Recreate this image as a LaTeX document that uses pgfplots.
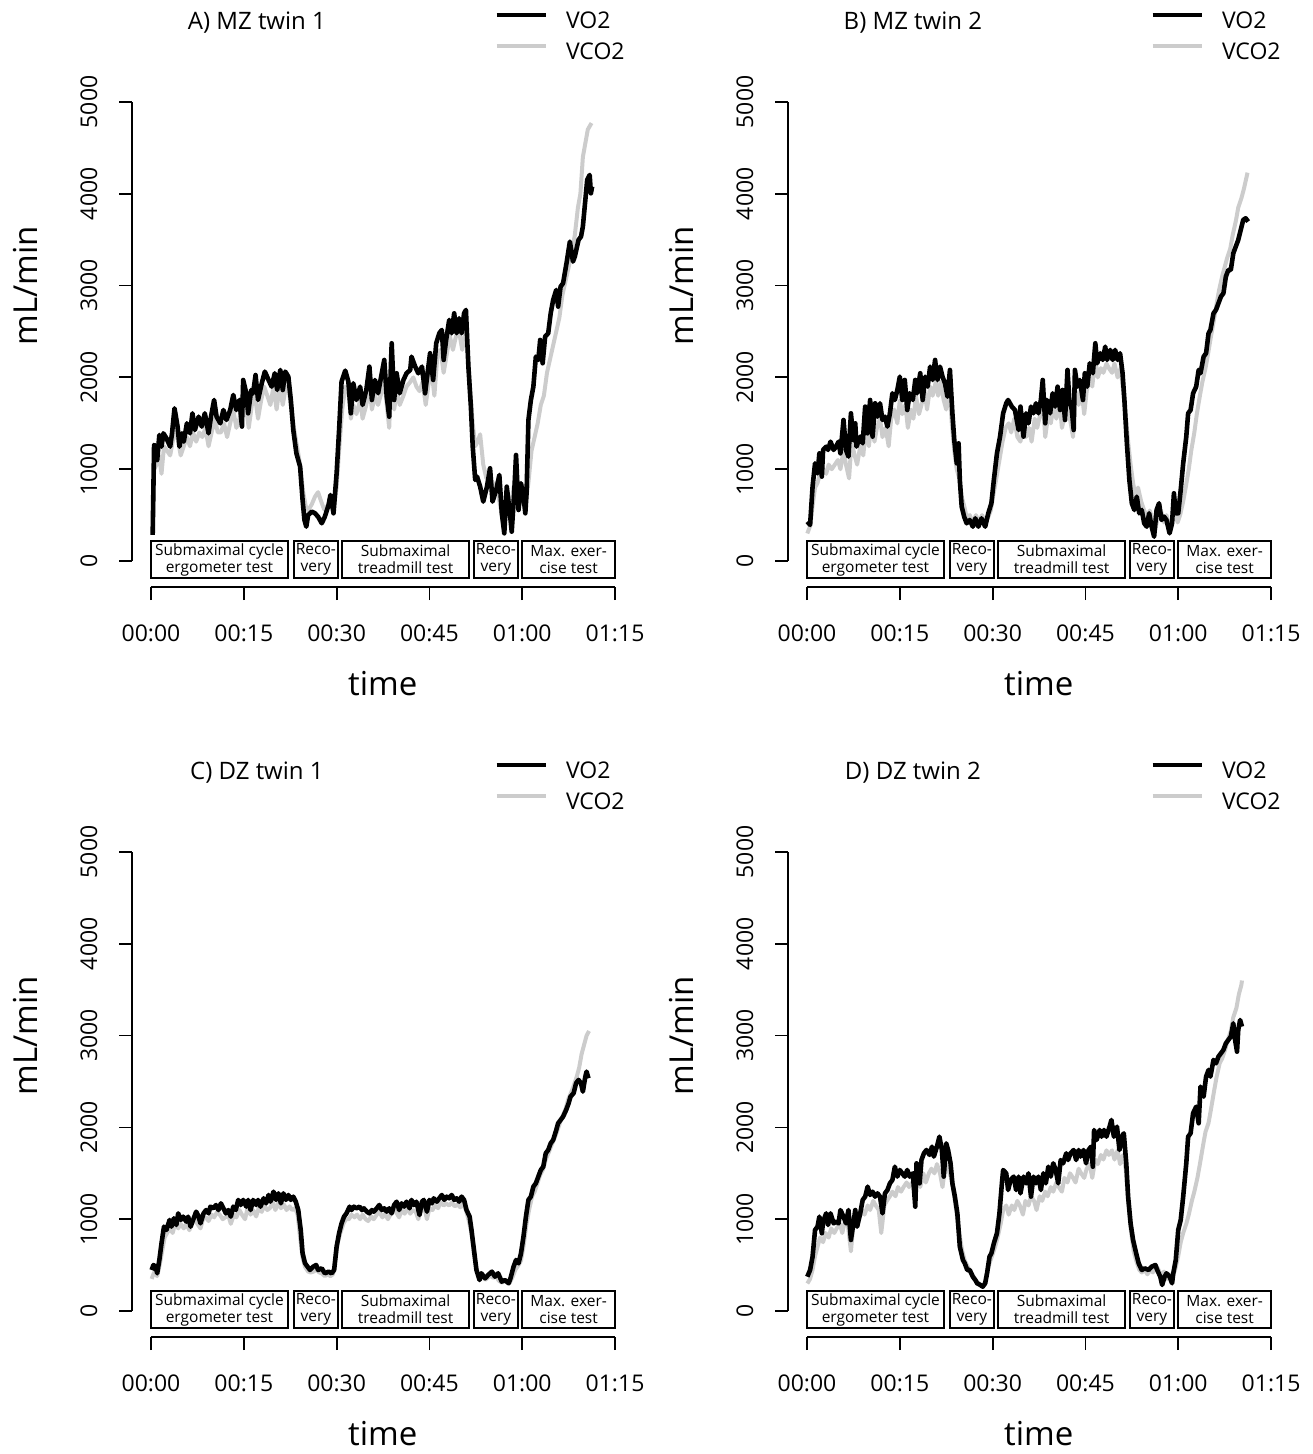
\documentclass[border=0pt]{standalone}
\usepackage{fontspec}
\setmainfont{Open Sans}
\usepackage{pgfplots}
\pgfplotsset{compat=1.18}

\definecolor{vcogray}{RGB}{204,204,204}

\pgfplotsset{
  panel/.style={
    scale only axis,
    width=250.8pt, height=251.7pt,
    xmin=-3.07, xmax=78, ymin=-283, ymax=5200,
    axis x line*=bottom, axis y line*=left,
    axis line style={draw=none},
    clip=false,
    xtick={0,15,30,45,60,75},
    xticklabels={00:00,00:15,00:30,00:45,01:00,01:15},
    ytick={0,1000,2000,3000,4000,5000},
    yticklabels={0,1000,2000,3000,4000,5000},
    tick align=outside,
    major tick length=6.5pt,
    tick style={black, line width=0.9pt},
    ticklabel style={font=\fontsize{11.5}{13}\selectfont},
    xticklabel style={anchor=center, yshift=-16.5pt},
    yticklabel style={xshift=-15pt, rotate=90, anchor=center},
    xlabel={time}, ylabel={mL/min},
    label style={font=\fontsize{16.5}{19}\selectfont},
    xlabel style={at={(axis description cs:0.5,-0.191)}, anchor=center},
    ylabel style={at={(axis description cs:-0.213,0.598)}, anchor=center},
    every axis title/.style={at={(axis description cs:0.249,1.122)}, anchor=center,
      font=\fontsize{12}{14}\selectfont},
    legend style={draw=none, fill=none, at={(axis description cs:0.7217,1.142)},
      anchor=north west, font=\fontsize{11.5}{13}\selectfont,
      inner sep=0pt, row sep=5.5pt, column sep=9pt,
      nodes={inner sep=0pt, text height=8pt, text depth=2pt}},
    legend cell align=left,
    reverse legend,
    legend image code/.code={\draw[##1] (0pt,4pt) -- (24.5pt,4pt);},
  },
  vco/.style={vcogray, line width=2pt, line join=round},
  vo/.style={black, line width=2.3pt, line join=round},
}

\newcommand{\phaseboxes}{%
  \draw[line width=0.9pt, fill=white] (0,-185) rectangle (22.14,218);
  \draw[line width=0.9pt, fill=white] (23.1,-185) rectangle (30.2,218);
  \draw[line width=0.9pt, fill=white] (30.9,-185) rectangle (51.4,218);
  \draw[line width=0.9pt, fill=white] (52.2,-185) rectangle (59.3,218);
  \draw[line width=0.9pt, fill=white] (60.0,-185) rectangle (75,218);
  \node[align=center, inner sep=0pt, font=\fontsize{7.75}{8.5}\selectfont] at (11.07,16) {Submaximal cycle\\ergometer test};
  \node[align=center, inner sep=0pt, font=\fontsize{7.75}{8.5}\selectfont] at (26.65,16) {Reco-\\very};
  \node[align=center, inner sep=0pt, font=\fontsize{7.75}{8.5}\selectfont] at (41.15,16) {Submaximal\\treadmill test};
  \node[align=center, inner sep=0pt, font=\fontsize{7.75}{8.5}\selectfont] at (55.75,16) {Reco-\\very};
  \node[align=center, inner sep=0pt, font=\fontsize{7.75}{8.5}\selectfont] at (67.5,16) {Max. exer-\\cise test};
  \draw[line width=0.9pt] (-3.07,0) -- (-3.07,5000);
  \draw[line width=0.9pt] (0,-283) -- (75,-283);
}

\begin{document}
\begin{tikzpicture}
\useasboundingbox (0,0) rectangle (656pt,-727pt);

% A) MZ twin 1
\begin{axis}[panel, at={(66pt,-293.5pt)}, anchor=south west, title={A) MZ twin 1}]
\addplot[vco] coordinates {
(0.3,300) (0.5,1000) (0.9,1050) (1.3,1150) (1.7,950) (2.1,1250) (2.6,1200) (3.1,1150) (3.5,1300) (3.9,1450) (4.4,1300) (4.8,1150) (5.3,1250) (5.8,1350) (6.3,1250) (6.8,1400) (7.3,1300) (7.8,1400) (8.3,1350) (8.8,1450) (9.3,1250) (9.8,1400) (10.3,1550) (10.8,1400) (11.3,1400) (11.8,1500) (12.3,1350) (12.8,1500) (13.3,1650) (13.8,1450) (14.3,1550) (14.8,1750) (15.3,1700) (15.8,1450) (16.3,1700) (16.8,1800) (17.3,1550) (17.8,1750) (18.3,1900) (18.8,1800) (19.3,1700) (19.8,1900) (20.3,1650) (20.8,1900) (21.3,1700) (21.8,1900) (22.3,1850) (22.7,1650) (23.1,1450) (23.6,1250) (24.1,1050) (24.6,750) (25.0,600) (25.4,550) (26.0,620) (26.5,700) (27.0,750) (27.5,650) (28.0,560) (28.5,600) (29.0,620) (29.5,560) (30.0,800) (30.4,1200) (30.9,1650) (31.4,1900) (31.9,1850) (32.3,1550) (32.7,1700) (33.2,1600) (33.8,1750) (34.2,1550) (34.8,1700) (35.3,1900) (35.7,1650) (36.2,1800) (36.7,1700) (37.3,1850) (37.7,2000) (38.1,1700) (38.5,1450) (38.9,2150) (39.3,1650) (39.7,1850) (40.2,1700) (40.8,1800) (41.3,1900) (41.9,1950) (42.4,2000) (42.9,1900) (43.4,1850) (43.9,1950) (44.4,1700) (44.8,1900) (45.3,2100) (45.8,1800) (46.3,2250) (46.8,2300) (47.3,2050) (47.8,2250) (48.3,2450) (48.8,2300) (49.3,2450) (49.8,2500) (50.3,2300) (50.8,2500) (51.2,2250) (51.6,1850) (52.0,1500) (52.4,1250) (52.8,1300) (53.2,1380) (53.7,1050) (54.2,900) (54.7,1000) (55.2,800) (55.7,850) (56.2,700) (56.7,500) (57.2,650) (57.7,700) (58.2,600) (58.6,800) (59.0,900) (59.5,600) (60.0,700) (60.5,600) (61.0,850) (61.5,1200) (62.0,1350) (62.5,1500) (63.0,1700) (63.5,1800) (64.0,2050) (64.5,2200) (65.0,2350) (65.5,2500) (66.0,2650) (66.5,2900) (67.0,3050) (67.5,3200) (68.0,3350) (68.5,3550) (69.0,3850) (69.4,4000) (69.8,4400) (70.2,4550) (70.6,4700) (71.2,4770)
};
\addlegendentry{VCO2}
\addplot[vo] coordinates {
(0.27,284) (0.5,1264) (0.8,1246) (1.0,1100) (1.35,1373) (1.7,1246) (2.0,1391) (2.5,1337) (3.1,1246) (3.4,1391) (3.8,1663) (4.3,1464) (4.6,1246) (5.0,1391) (5.3,1300) (5.8,1500) (6.3,1391) (6.7,1609) (7.1,1427) (7.7,1572) (8.2,1464) (8.7,1609) (9.3,1391) (9.7,1572) (10.2,1754) (10.6,1572) (11.2,1500) (11.7,1645) (12.2,1536) (12.8,1645) (13.3,1809) (13.8,1645) (14.3,1754) (14.7,1464) (14.9,1972) (15.4,1827) (15.7,1609) (16.2,1863) (16.5,1827) (16.9,2026) (17.3,1754) (17.9,1936) (18.4,2063) (19.0,1972) (19.5,1899) (20.0,2045) (20.4,1863) (20.9,2081) (21.3,1863) (21.7,2063) (22.2,2008) (22.6,1754) (23.0,1427) (23.5,1173) (24.1,1028) (24.5,665) (24.8,447) (25.1,374) (25.4,501) (26.0,538) (26.5,520) (27.0,483) (27.6,411) (28.1,483) (28.7,611) (29.0,719) (29.5,520) (30.0,955) (30.4,1427) (30.8,1954) (31.4,2074) (31.9,1954) (32.3,1609) (32.7,1936) (33.2,1754) (33.8,1899) (34.2,1700) (34.8,1863) (35.3,2117) (35.7,1754) (36.2,1972) (36.7,1827) (37.3,2045) (37.7,2190) (38.1,1790) (38.5,1572) (38.9,2372) (39.3,1754) (39.7,2045) (40.2,1827) (40.8,1972) (41.3,2045) (41.9,2081) (42.1,2226) (42.7,2117) (43.2,2045) (43.8,2117) (44.3,1827) (44.7,2045) (45.1,2263) (45.6,1972) (46.1,2372) (46.6,2481) (47.0,2517) (47.3,2190) (47.7,2408) (48.2,2626) (48.6,2481) (49.0,2698) (49.4,2481) (49.8,2644) (50.2,2481) (50.6,2698) (50.9,2735) (51.3,2117) (51.7,1682) (52.0,1246) (52.4,883) (52.7,919) (53.2,810) (53.7,647) (54.3,810) (54.8,1010) (55.2,647) (55.8,774) (56.3,937) (56.7,520) (57.1,302) (57.5,810) (58.0,520) (58.3,320) (58.7,738) (59.0,1155) (59.4,556) (59.8,847) (60.2,701) (60.5,520) (60.7,738) (61.0,1536) (61.4,1754) (61.8,1899) (62.2,2226) (62.6,2190) (62.9,2408) (63.3,2154) (63.7,2444) (64.2,2481) (64.6,2698) (65.0,2844) (65.5,2953) (65.8,2771) (66.2,2989) (66.6,3025) (67.2,3261) (67.7,3479) (68.2,3261) (68.5,3316) (69.1,3497) (69.5,3533) (69.8,3642) (70.2,3933) (70.5,4151) (70.9,4205) (71.1,4005) (71.3,4078)
};
\addlegendentry{VO2}
\phaseboxes
\end{axis}

% B) MZ twin 2
\begin{axis}[panel, at={(394pt,-293.5pt)}, anchor=south west, title={B) MZ twin 2}]
\addplot[vco] coordinates {
(0.05,300) (0.5,380) (0.9,600) (1.3,800) (1.7,850) (2.1,950) (2.6,1000) (3.1,950) (3.5,1050) (4.0,1000) (4.5,1050) (5.0,1100) (5.4,1000) (5.9,1200) (6.3,1050) (6.8,900) (7.2,1300) (7.7,1150) (8.1,1050) (8.6,1250) (9.1,1150) (9.5,1450) (10.0,1250) (10.4,1500) (10.9,1300) (11.3,1450) (11.8,1550) (12.2,1350) (12.7,1450) (13.2,1250) (13.6,1550) (14.1,1650) (14.6,1500) (15.0,1750) (15.4,1600) (15.9,1700) (16.3,1450) (16.8,1650) (17.2,1550) (17.6,1800) (18.1,1600) (18.5,1700) (19.0,1850) (19.4,1650) (19.9,1900) (20.3,1800) (20.8,1950) (21.2,1800) (21.6,1950) (22.1,1750) (22.5,1650) (23.0,1900) (23.4,1500) (23.8,1200) (24.2,1000) (24.6,900) (25.0,700) (25.4,600) (25.8,480) (26.3,500) (26.8,420) (27.3,500) (27.8,430) (28.3,500) (28.8,420) (29.3,480) (29.7,550) (30.2,750) (30.6,900) (31.1,1100) (31.6,1300) (32.1,1450) (32.6,1500) (33.0,1400) (33.5,1550) (34.0,1350) (34.5,1300) (35.0,1500) (35.4,1350) (35.9,1450) (36.3,1300) (36.8,1550) (37.2,1450) (37.7,1600) (38.1,1750) (38.5,1350) (39.0,1600) (39.4,1500) (39.9,1700) (40.3,1550) (40.8,1750) (41.2,1450) (41.7,1600) (42.1,1900) (42.5,1550) (43.0,1350) (43.4,1850) (43.9,1700) (44.3,1900) (44.8,1600) (45.2,1850) (45.7,2000) (46.1,1900) (46.6,2200) (47.0,2000) (47.5,2100) (47.9,2050) (48.4,2150) (48.8,2100) (49.3,2050) (49.7,2150) (50.2,2000) (50.7,2100) (51.1,1850) (51.5,1600) (51.9,1300) (52.3,1050) (52.7,850) (53.1,700) (53.5,800) (54.0,650) (54.5,550) (55.0,480) (55.4,550) (55.9,450) (56.3,350) (56.8,500) (57.2,550) (57.7,420) (58.1,500) (58.6,380) (59.0,420) (59.4,550) (59.9,420) (60.3,500) (60.8,650) (61.2,800) (61.7,1000) (62.1,1200) (62.6,1400) (63.0,1600) (63.5,1800) (63.9,1950) (64.4,2100) (64.8,2250) (65.3,2450) (65.7,2600) (66.2,2800) (66.6,2950) (67.1,3100) (67.5,3200) (67.9,3300) (68.4,3400) (68.8,3550) (69.3,3700) (69.7,3850) (70.2,3950) (70.6,4050) (71.2,4230)
};
\addlegendentry{VCO2}
\addplot[vo] coordinates {
(0.05,429) (0.5,393) (0.9,810) (1.3,1064) (1.7,955) (2.0,1173) (2.4,919) (2.6,1210) (3.1,1246) (3.4,1210) (3.8,1300) (4.3,1210) (4.7,1246) (5.1,1300) (5.4,1173) (5.9,1536) (6.3,1210) (6.7,1137) (7.1,1609) (7.5,1318) (7.8,1500) (8.0,1246) (8.6,1355) (9.0,1282) (9.4,1682) (9.8,1391) (10.2,1754) (10.6,1355) (11.0,1718) (11.4,1572) (11.8,1718) (12.2,1536) (12.6,1572) (13.0,1464) (13.4,1609) (13.8,1827) (14.2,1754) (14.6,1863) (15.0,2008) (15.4,1754) (15.8,1972) (16.2,1645) (16.6,1827) (17.1,1754) (17.5,1972) (17.8,1827) (18.3,2045) (18.7,1754) (19.1,2008) (19.5,1899) (19.9,2117) (20.3,1972) (20.7,2190) (21.1,1972) (21.5,2117) (21.9,2008) (22.3,1936) (22.7,1790) (23.1,2081) (23.5,1609) (23.8,1318) (24.2,1064) (24.5,1282) (24.7,883) (25.0,592) (25.4,483) (25.8,411) (26.3,447) (26.8,374) (27.2,465) (27.7,374) (28.2,465) (28.8,374) (29.3,520) (29.8,629) (30.2,883) (30.7,1173) (31.2,1355) (31.7,1609) (32.2,1718) (32.5,1754) (33.1,1682) (33.6,1645) (34.2,1427) (34.5,1682) (35.0,1355) (35.4,1609) (35.8,1500) (36.2,1682) (36.6,1609) (37.0,1718) (37.4,1609) (37.8,1754) (38.1,1972) (38.5,1500) (38.8,1754) (39.3,1609) (39.7,1827) (40.1,1682) (40.5,1899) (40.9,1645) (41.3,1863) (41.7,1536) (42.1,2081) (42.4,1754) (42.8,1645) (43.1,1427) (43.3,2081) (43.7,1899) (44.1,1972) (44.6,1754) (44.9,2045) (45.3,1899) (45.7,2154) (46.2,2045) (46.6,2372) (46.9,2154) (47.4,2263) (47.8,2190) (48.2,2335) (48.5,2190) (49.0,2299) (49.4,2190) (49.8,2299) (50.2,2190) (50.6,2263) (51.0,2045) (51.3,1754) (51.7,1282) (52.1,883) (52.5,629) (52.9,556) (53.3,701) (53.7,520) (54.1,556) (54.5,411) (54.9,374) (55.3,520) (55.7,374) (56.1,265) (56.5,556) (56.9,629) (57.3,447) (57.7,483) (58.1,447) (58.6,302) (59.0,411) (59.3,738) (59.6,520) (60.0,520) (60.4,774) (60.8,1064) (61.3,1355) (61.6,1609) (62.0,1645) (62.4,1827) (62.9,1899) (63.3,2081) (63.6,2045) (64.1,2226) (64.5,2263) (64.9,2481) (65.2,2517) (65.7,2698) (66.1,2735) (66.5,2807) (66.9,2880) (67.3,2916) (67.7,3098) (68.1,3170) (68.5,3170) (68.9,3352) (69.3,3425) (69.7,3497) (70.1,3606) (70.5,3715) (70.9,3733) (71.3,3697)
};
\addlegendentry{VO2}
\phaseboxes
\end{axis}

% C) DZ twin 1
\begin{axis}[panel, at={(66pt,-668.5pt)}, anchor=south west, title={C) DZ twin 1}]
\addplot[vco] coordinates {
(0.1,350) (0.5,420) (1.0,380) (1.4,500) (1.8,650) (2.2,800) (2.6,850) (3.1,900) (3.5,850) (3.9,950) (4.4,900) (4.8,950) (5.3,900) (5.7,950) (6.2,880) (6.6,950) (7.1,1000) (7.5,950) (8.0,900) (8.4,1000) (8.9,1020) (9.3,980) (9.8,1050) (10.2,1020) (10.7,1080) (11.1,1050) (11.6,1000) (12.0,1020) (12.5,1040) (12.9,950) (13.4,1050) (13.8,1020) (14.3,1100) (14.7,1050) (15.2,1000) (15.6,1120) (16.1,1050) (16.5,1100) (17.0,1030) (17.4,1120) (17.9,1080) (18.3,1150) (18.8,1100) (19.2,1120) (19.7,1180) (20.1,1100) (20.6,1180) (21.0,1120) (21.5,1160) (21.9,1100) (22.4,1140) (22.8,1100) (23.3,1120) (23.7,1050) (24.1,800) (24.5,580) (24.9,480) (25.4,430) (25.8,420) (26.3,430) (26.7,450) (27.2,420) (27.6,410) (28.1,380) (28.5,400) (29.0,380) (29.4,400) (29.8,550) (30.2,750) (30.6,850) (31.1,950) (31.5,1000) (32.0,1000) (32.4,1050) (32.9,1020) (33.3,1050) (33.8,1000) (34.2,1050) (34.7,1000) (35.1,980) (35.6,1030) (36.0,1000) (36.5,1050) (36.9,1080) (37.4,1020) (37.8,1060) (38.3,1000) (38.7,1050) (39.2,1100) (39.6,1080) (40.1,1020) (40.5,1100) (41.0,1060) (41.4,1120) (41.9,1060) (42.3,1100) (42.8,1080) (43.2,1000) (43.7,1100) (44.1,1150) (44.6,1000) (45.0,1120) (45.5,1100) (45.9,1150) (46.4,1120) (46.8,1180) (47.3,1150) (47.7,1170) (48.2,1150) (48.6,1180) (49.1,1140) (49.5,1160) (50.0,1130) (50.4,1170) (50.9,1100) (51.3,1000) (51.8,850) (52.2,620) (52.6,450) (53.1,350) (53.5,380) (54.0,340) (54.4,360) (54.9,390) (55.3,360) (55.8,380) (56.2,330) (56.7,310) (57.1,320) (57.6,330) (58.0,310) (58.5,380) (58.9,450) (59.4,500) (59.8,550) (60.2,700) (60.7,950) (61.1,1100) (61.6,1250) (62.0,1300) (62.5,1400) (62.9,1480) (63.4,1550) (63.8,1650) (64.3,1730) (64.7,1800) (65.2,1880) (65.6,1950) (66.1,2050) (66.5,2120) (67.0,2200) (67.4,2300) (67.9,2380) (68.3,2450) (68.8,2550) (69.2,2650) (69.6,2800) (70.0,2900) (70.4,3000) (70.8,3050)
};
\addlegendentry{VCO2}
\addplot[vo] coordinates {
(0.1,447) (0.4,501) (0.75,483) (1.0,411) (1.35,556) (1.7,738) (2.1,919) (2.5,883) (3.0,992) (3.3,919) (3.7,1010) (4.1,937) (4.4,1064) (4.8,992) (5.2,1028) (5.7,974) (6.0,1028) (6.4,919) (6.8,992) (7.3,1082) (7.7,1028) (8.0,955) (8.5,1064) (8.9,1100) (9.3,1064) (9.6,1137) (10.1,1119) (10.5,1155) (10.9,1100) (11.3,1173) (11.7,1119) (12.1,1064) (12.5,1100) (12.9,1028) (13.3,1137) (13.7,1100) (14.1,1210) (14.5,1155) (14.9,1210) (15.4,1137) (15.7,1210) (16.1,1100) (16.5,1210) (17.0,1155) (17.3,1210) (17.7,1137) (18.2,1228) (18.6,1173) (19.0,1264) (19.3,1191) (19.8,1300) (20.2,1210) (20.6,1282) (21.0,1173) (21.4,1282) (21.8,1210) (22.2,1264) (22.6,1210) (23.0,1246) (23.4,1191) (23.8,1100) (24.2,883) (24.5,629) (24.9,520) (25.3,483) (25.7,447) (26.2,483) (26.7,501) (27.0,447) (27.6,465) (28.1,411) (28.7,429) (29.2,411) (29.6,447) (30.0,701) (30.4,847) (30.8,955) (31.2,1028) (31.6,1064) (32.1,1137) (32.4,1100) (32.8,1137) (33.2,1119) (33.7,1137) (34.1,1100) (34.4,1119) (34.9,1082) (35.3,1064) (35.7,1100) (36.0,1082) (36.5,1119) (36.9,1155) (37.3,1100) (37.7,1119) (38.1,1082) (38.5,1119) (38.9,1064) (39.3,1155) (39.7,1191) (40.1,1100) (40.5,1173) (40.9,1137) (41.3,1191) (41.8,1119) (42.1,1210) (42.5,1155) (42.9,1191) (43.4,1046) (43.8,1191) (44.1,1210) (44.6,1082) (45.0,1210) (45.4,1173) (45.7,1228) (46.2,1191) (46.6,1228) (47.0,1264) (47.4,1210) (47.8,1246) (48.2,1228) (48.6,1264) (49.0,1210) (49.4,1228) (49.8,1191) (50.2,1246) (50.6,1210) (51.0,1100) (51.5,1028) (51.8,883) (52.2,665) (52.6,447) (53.1,338) (53.4,411) (54.0,356) (54.5,393) (55.1,429) (55.6,374) (56.1,411) (56.7,320) (57.2,338) (57.8,302) (58.1,356) (58.6,483) (59.0,556) (59.4,520) (59.8,629) (60.2,810) (60.6,1028) (61.0,1210) (61.4,1246) (61.8,1355) (62.2,1391) (62.6,1464) (63.0,1536) (63.4,1572) (63.8,1718) (64.2,1754) (64.6,1827) (65.0,1863) (65.5,1972) (65.8,2045) (66.2,2081) (66.6,2117) (67.1,2190) (67.5,2263) (67.8,2335) (68.3,2372) (68.7,2481) (69.1,2517) (69.5,2481) (69.8,2390) (70.2,2553) (70.4,2608) (70.7,2535)
};
\addlegendentry{VO2}
\phaseboxes
\end{axis}

% D) DZ twin 2
\begin{axis}[panel, at={(394pt,-668.5pt)}, anchor=south west, title={D) DZ twin 2}]
\addplot[vco] coordinates {
(0.05,300) (0.5,350) (0.9,450) (1.3,600) (1.7,700) (2.1,800) (2.6,750) (3.0,850) (3.5,800) (3.9,900) (4.4,850) (4.8,900) (5.3,950) (5.7,850) (6.2,1000) (6.6,950) (7.1,650) (7.5,950) (8.0,1050) (8.4,1000) (8.9,1100) (9.3,1050) (9.8,1150) (10.2,1100) (10.7,1200) (11.1,1150) (11.6,1100) (12.0,850) (12.5,1150) (12.9,1200) (13.4,1250) (13.8,1300) (14.3,1250) (14.7,1350) (15.2,1300) (15.6,1350) (16.1,1400) (16.5,1350) (17.0,1400) (17.4,1300) (17.9,1450) (18.3,1350) (18.8,1500) (19.2,1400) (19.7,1500) (20.1,1550) (20.6,1500) (21.0,1600) (21.5,1500) (21.9,1350) (22.4,1600) (22.8,1550) (23.3,1450) (23.7,1300) (24.2,1050) (24.6,850) (25.1,650) (25.5,550) (26.0,480) (26.4,430) (26.9,380) (27.3,330) (27.8,300) (28.2,280) (28.7,300) (29.1,420) (29.5,520) (29.9,600) (30.4,700) (30.8,800) (31.3,950) (31.7,1100) (32.2,1150) (32.6,1050) (33.1,1150) (33.5,1100) (34.0,1200) (34.4,1150) (34.9,1050) (35.3,1200) (35.8,1150) (36.2,1250) (36.7,1200) (37.1,1100) (37.6,1250) (38.0,1200) (38.5,1300) (38.9,1250) (39.4,1350) (39.8,1300) (40.3,1400) (40.7,1350) (41.2,1300) (41.6,1450) (42.1,1400) (42.5,1500) (43.0,1450) (43.4,1400) (43.9,1550) (44.3,1500) (44.8,1450) (45.2,1550) (45.7,1600) (46.1,1450) (46.6,1650) (47.0,1600) (47.5,1700) (47.9,1650) (48.4,1750) (48.8,1700) (49.3,1750) (49.7,1650) (50.2,1750) (50.6,1600) (51.1,1700) (51.5,1550) (51.9,1200) (52.3,900) (52.8,650) (53.2,550) (53.7,450) (54.1,420) (54.6,450) (55.0,400) (55.5,450) (55.9,420) (56.4,500) (56.8,450) (57.3,380) (57.7,430) (58.2,350) (58.6,400) (59.1,380) (59.5,450) (60.0,600) (60.4,750) (60.8,850) (61.3,950) (61.7,1050) (62.2,1200) (62.6,1300) (63.1,1450) (63.5,1600) (64.0,1800) (64.4,1950) (64.9,2050) (65.3,2200) (65.8,2400) (66.2,2550) (66.7,2700) (67.1,2750) (67.6,2850) (68.0,2950) (68.5,3050) (68.9,3200) (69.4,3300) (69.8,3450) (70.2,3550) (70.3,3600)
};
\addlegendentry{VCO2}
\addplot[vo] coordinates {
(0.05,374) (0.5,447) (0.9,592) (1.3,883) (1.7,919) (2.0,1028) (2.4,847) (2.6,974) (3.1,1064) (3.4,937) (3.8,1064) (4.3,955) (4.7,974) (5.1,955) (5.4,1100) (5.9,1028) (6.3,955) (6.7,1100) (7.1,774) (7.5,955) (7.8,1100) (8.1,919) (8.6,1064) (9.0,1210) (9.4,1246) (9.8,1355) (10.2,1264) (10.6,1300) (11.0,1246) (11.4,1282) (11.8,1246) (12.2,1064) (12.6,1282) (13.0,1318) (13.4,1391) (13.8,1427) (14.2,1572) (14.6,1464) (15.0,1536) (15.4,1500) (15.8,1464) (16.2,1536) (16.6,1464) (17.1,1500) (17.5,1137) (17.7,1609) (18.2,1391) (18.5,1645) (18.9,1718) (19.3,1754) (19.8,1700) (20.2,1790) (20.5,1682) (21.0,1790) (21.4,1899) (21.8,1754) (22.1,1464) (22.5,1827) (22.8,1754) (23.2,1609) (23.5,1391) (23.9,1246) (24.3,1064) (24.7,701) (25.2,556) (25.5,520) (25.9,447) (26.3,447) (26.8,374) (27.2,338) (27.5,302) (28.0,284) (28.4,265) (28.8,302) (29.1,411) (29.5,592) (29.8,629) (30.2,738) (30.7,847) (31.1,1064) (31.5,1391) (31.7,1536) (32.2,1500) (32.5,1318) (32.9,1427) (33.4,1464) (33.8,1318) (34.2,1464) (34.5,1282) (35.0,1464) (35.4,1391) (35.8,1500) (36.2,1246) (36.6,1464) (37.0,1391) (37.4,1464) (37.8,1318) (38.2,1500) (38.6,1391) (39.0,1572) (39.4,1464) (39.8,1609) (40.2,1536) (40.6,1391) (41.0,1645) (41.4,1609) (41.9,1718) (42.2,1645) (42.6,1718) (43.1,1754) (43.5,1645) (43.9,1754) (44.2,1682) (44.7,1754) (45.1,1609) (45.5,1754) (45.9,1790) (46.2,1572) (46.4,1972) (46.8,1863) (47.3,1972) (47.6,1899) (48.0,1972) (48.4,1899) (48.9,2008) (49.2,2081) (49.6,1899) (50.1,2008) (50.5,1754) (50.9,1899) (51.2,1936) (51.6,1609) (51.9,1246) (52.3,955) (52.7,774) (53.2,629) (53.6,520) (54.1,447) (54.6,465) (55.2,447) (55.7,483) (56.3,501) (56.6,447) (57.1,374) (57.4,284) (57.8,374) (58.1,411) (58.6,374) (59.0,302) (59.2,411) (59.6,556) (60.0,883) (60.4,992) (60.8,1246) (61.3,1609) (61.6,1899) (62.0,1936) (62.4,2154) (62.9,2226) (63.3,2045) (63.6,2444) (64.1,2335) (64.5,2553) (64.9,2626) (65.2,2553) (65.7,2735) (66.1,2698) (66.5,2771) (66.9,2807) (67.3,2844) (67.7,2916) (68.1,2953) (68.5,2989) (68.9,3134) (69.1,2989) (69.5,2825) (69.7,3061) (70.0,3170) (70.3,3098)
};
\addlegendentry{VO2}
\phaseboxes
\end{axis}
\end{tikzpicture}
\end{document}
